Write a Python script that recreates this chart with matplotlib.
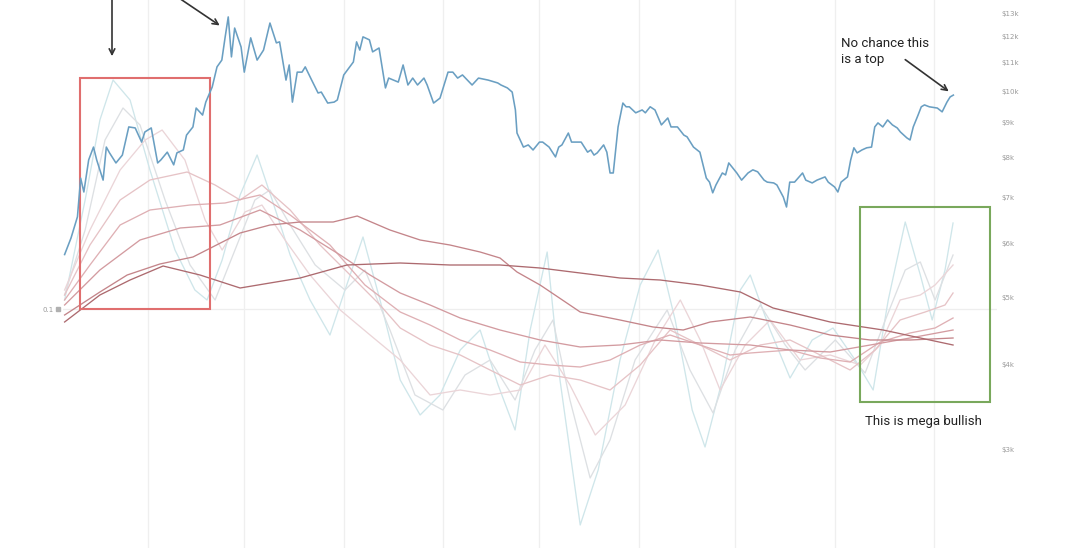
import pandas as pd
import matplotlib
matplotlib.use("Agg")
import matplotlib.pyplot as plt
import matplotlib.dates as mdates
from matplotlib.patches import Rectangle
from matplotlib.ticker import NullLocator

# days counted from 2019-05-06
start = pd.Timestamp("2019-05-06")

price_days = [0, 2, 4, 5, 6, 7.5, 9, 10, 12, 13, 14, 16, 18, 20, 22, 24, 25, 27, 29, 30,
              32, 34, 35, 37, 38, 40, 41, 43, 44, 46, 47.5, 49, 50, 51, 52, 53, 55, 56, 58, 60,
              62, 64, 66, 67, 69, 70, 71, 72.5, 74, 75, 77, 79, 80, 82, 84, 85, 87, 90, 91, 92,
              93, 95, 96, 98, 100, 101, 104, 105.5, 107, 108.5, 110, 112, 113, 115, 117, 119.5, 121, 122.5, 124, 127,
              129, 132, 135, 136, 138, 139.5, 140.5, 141, 143, 144.5, 146, 148, 149, 151, 153, 154, 155, 157, 158, 161,
              163, 164, 165, 166, 168, 169, 170, 171, 172.5, 174, 175, 176, 178, 180, 181, 182.5, 184, 186, 188, 189,
              191, 193, 194, 196, 198, 200, 201, 202, 203, 205, 206, 207, 209.5, 211, 213, 214.5, 216, 218, 219, 221,
              222, 224, 225, 226, 227.5, 230, 231, 233, 234.5, 237, 238, 240, 241, 242, 244, 245, 246, 247, 248.5, 250,
              251.5, 252.5, 253.5, 255, 256.5, 258, 259.5, 260.5, 262.5, 263.5, 264.5, 266, 267, 268, 269.5, 272, 273.5, 275, 276, 277]
price_vals = [5780, 6110, 6560, 7470, 7130, 7940, 8290, 7940, 7420, 8290, 8130, 7860, 8070, 8870, 8840, 8430, 8720, 8840, 7860, 7940,
              8150, 7810, 8130, 8210, 8630, 8870, 9450, 9230, 9640, 10140, 10850, 11100, 11960, 12830, 11220, 12360, 11600, 10660, 11960, 11100,
              11480, 12570, 11760, 11800, 10380, 10920, 9640, 10660, 10660, 10850, 10380, 9940, 9970, 9610, 9640, 9710, 10560, 11030, 11800, 11480,
              12000, 11880, 11410, 11560, 10110, 10450, 10310, 10920, 10210, 10450, 10210, 10450, 10210, 9610, 9770, 10660, 10660, 10450, 10560, 10210,
              10450, 10380, 10280, 10210, 10110, 9970, 9390, 8690, 8290, 8350, 8210, 8430, 8430, 8290, 8020, 8290, 8350, 8690, 8430, 8430,
              8150, 8210, 8070, 8130, 8350, 8150, 7600, 7600, 8870, 9610, 9490, 9490, 9300, 9390, 9300, 9490, 9390, 8930, 9140, 8870,
              8870, 8630, 8580, 8290, 8150, 7470, 7370, 7110, 7300, 7600, 7550, 7860, 7600, 7420, 7600, 7680, 7630, 7420, 7370, 7350,
              7300, 7010, 6780, 7370, 7370, 7600, 7420, 7350, 7420, 7500, 7370, 7250, 7130, 7370, 7500, 7940, 8270, 8130, 8210, 8270,
              8290, 8870, 8990, 8870, 9080, 8930, 8840, 8720, 8550, 8490, 8870, 9230, 9490, 9550, 9490, 9450, 9330, 9640, 9810, 9870]

# oscillators, fastest (l1) to slowest (l8)
l1_days = [0, 6.4, 11.0, 15.1, 20.4, 26.6, 34.4, 40.6, 44.4, 49.1, 54.7, 60.0, 64.7, 70.3, 76.5, 82.7, 87.4, 93.0, 98.3, 104.6,
           110.8, 117.0, 123.3, 129.5, 135.1, 140.4, 145.1, 150.4, 154.4, 160.7, 166.3, 173.1, 179.4, 185.0, 190.3, 195.6, 199.6, 205.0, 210.6, 213.7,
           219.9, 226.1, 233.0, 239.5, 246.4, 252.0, 256.7, 262.0, 266.7, 270.4, 274.4, 276.9]
l1_vals = [0.109, 0.209, 0.289, 0.329, 0.309, 0.239, 0.159, 0.119, 0.109, 0.149, 0.214, 0.254, 0.209, 0.154, 0.109, 0.074, 0.119, 0.172, 0.109, 0.029,
           -0.006, 0.014, 0.059, 0.079, 0.024, -0.021, 0.079, 0.157, 0.029, -0.116, -0.061, 0.049, 0.124, 0.159, 0.089, -0.001, -0.038, 0.029, 0.119, 0.134,
           0.079, 0.031, 0.069, 0.081, 0.049, 0.019, 0.109, 0.187, 0.134, 0.089, 0.139, 0.186]

l2_days = [0, 6.4, 12.6, 18.2, 23.5, 31.3, 39.1, 46.9, 53.1, 59.3, 64.0, 70.3, 78.1, 87.4, 93.6, 101.4, 109.2, 117.9, 124.8, 132.6,
           140.4, 146.6, 152.2, 157.5, 163.8, 170.0, 177.8, 187.8, 194.9, 202.1, 209.0, 216.8, 224.6, 230.8, 240.2, 249.5, 255.8, 262.0, 266.7, 271.3, 276.9]
l2_vals = [0.114, 0.179, 0.269, 0.301, 0.284, 0.209, 0.144, 0.109, 0.159, 0.209, 0.219, 0.184, 0.144, 0.119, 0.139, 0.079, 0.014, -0.001, 0.034, 0.049,
           0.009, 0.059, 0.089, 0.009, -0.069, -0.031, 0.049, 0.099, 0.039, -0.004, 0.059, 0.104, 0.064, 0.039, 0.069, 0.036, 0.089, 0.139, 0.147, 0.109, 0.154]

l3_days = [0, 7.9, 17.3, 25.1, 30.4, 37.5, 43.8, 49.1, 56.2, 61.5, 68.7, 76.5, 85.9, 95.2, 104.6, 113.9, 123.3, 132.6, 142.0, 149.7,
           157.5, 165.4, 174.7, 184.1, 191.9, 198.1, 204.3, 212.1, 219.9, 229.2, 238.6, 248.0, 254.2, 260.4, 266.7, 271.3, 276.9]
l3_vals = [0.119, 0.179, 0.239, 0.269, 0.279, 0.249, 0.189, 0.159, 0.197, 0.204, 0.169, 0.134, 0.099, 0.074, 0.049, 0.014, 0.019, 0.014, 0.019, 0.064,
           0.024, -0.026, 0.004, 0.069, 0.109, 0.069, 0.019, 0.064, 0.089, 0.049, 0.054, 0.044, 0.064, 0.109, 0.114, 0.124, 0.144]

l4_days = [0, 7.9, 17.3, 26.6, 38.2, 46.9, 54.7, 61.5, 70.3, 79.6, 89.0, 98.3, 104.6, 113.9, 123.3, 132.6, 142.0, 151.3, 160.7, 170.0,
           179.4, 188.7, 198.1, 207.4, 216.8, 226.1, 235.5, 244.8, 252.6, 260.4, 268.2, 274.4, 276.9]
l4_vals = [0.114, 0.164, 0.209, 0.229, 0.237, 0.224, 0.209, 0.224, 0.199, 0.164, 0.134, 0.104, 0.081, 0.064, 0.054, 0.039, 0.024, 0.034, 0.029, 0.019,
           0.044, 0.079, 0.064, 0.049, 0.064, 0.069, 0.054, 0.039, 0.059, 0.089, 0.097, 0.104, 0.116]

l5_days = [0, 7.9, 17.3, 26.6, 39.1, 50.0, 60.9, 70.3, 82.7, 93.6, 104.6, 113.9, 123.3, 132.6, 142.0, 151.3, 160.7, 170.0, 179.4, 188.7,
           198.1, 207.4, 213.7, 226.1, 235.5, 244.8, 254.2, 263.5, 271.3, 276.9]
l5_vals = [0.109, 0.144, 0.184, 0.199, 0.204, 0.206, 0.214, 0.194, 0.164, 0.124, 0.097, 0.084, 0.069, 0.059, 0.047, 0.044, 0.042, 0.049, 0.064, 0.074,
           0.064, 0.054, 0.056, 0.059, 0.051, 0.047, 0.067, 0.076, 0.081, 0.091]

l6_days = [0, 11.0, 23.5, 36.0, 48.4, 60.9, 73.4, 85.9, 95.2, 104.6, 113.9, 123.3, 135.7, 148.2, 160.7, 173.1, 185.6, 198.1, 213.7, 226.1,
           238.6, 251.1, 263.5, 276.9]
l6_vals = [0.104, 0.139, 0.169, 0.181, 0.184, 0.199, 0.179, 0.154, 0.134, 0.116, 0.104, 0.091, 0.079, 0.069, 0.062, 0.064, 0.069, 0.066, 0.064, 0.059,
           0.057, 0.064, 0.071, 0.079]

l7_days = [0, 11.0, 19.5, 29.7, 40.0, 54.7, 64.0, 73.4, 83.7, 91.2, 101.4, 110.8, 120.1, 129.5, 135.7, 141.0, 148.2, 160.7, 173.1, 183.4,
           192.8, 201.2, 213.7, 226.1, 238.6, 251.1, 263.5, 276.9]
l7_vals = [0.094, 0.117, 0.134, 0.145, 0.152, 0.176, 0.184, 0.187, 0.187, 0.193, 0.179, 0.169, 0.164, 0.157, 0.151, 0.137, 0.124, 0.097, 0.089, 0.082,
           0.079, 0.087, 0.092, 0.084, 0.074, 0.069, 0.069, 0.071]

l8_days = [0, 11.0, 20.4, 30.7, 42.2, 54.7, 64.0, 73.4, 88.0, 104.6, 120.1, 135.7, 148.2, 160.7, 173.1, 185.6, 198.1, 210.6, 220.8, 238.6,
           255.1, 276.9]
l8_vals = [0.087, 0.114, 0.129, 0.143, 0.134, 0.121, 0.126, 0.131, 0.144, 0.146, 0.144, 0.144, 0.141, 0.136, 0.131, 0.129, 0.124, 0.117, 0.101, 0.087,
           0.079, 0.064]

osc_lines = [(l1_days, l1_vals), (l2_days, l2_vals), (l3_days, l3_vals), (l4_days, l4_vals),
             (l5_days, l5_vals), (l6_days, l6_vals), (l7_days, l7_vals), (l8_days, l8_vals)]
osc_colors = ["#cfe6ea", "#dde0e3", "#ebd5d8", "#e6c3c6", "#dfb0b4", "#d39ba0", "#c4858a", "#ad6a6f"]

price_ticks = [3000, 4000, 5000, 6000, 7000, 8000, 9000, 10000, 11000, 12000, 13000]


def to_dates(days):
    return start + pd.to_timedelta(days, unit="D")


fig = plt.figure(figsize=(10.8, 5.48), dpi=100)
ax = fig.add_axes([63 / 1080, 0, 934 / 1080, 1])
ax2 = ax.twinx()

# oscillators
for (d, v), c in zip(osc_lines, osc_colors):
    ax.plot(to_dates(d), v, color=c, linewidth=0.95)

ax.axhline(0.1, color="#eeeeee", linewidth=0.9, zorder=0)
ax.set_ylim(-0.139, 0.409)
ax.set_xlim(to_dates(-0.5), to_dates(290.6))
ax.xaxis.set_major_locator(mdates.MonthLocator())
ax.grid(axis="x", color="#efefef", linewidth=0.9)
ax.set_axisbelow(True)
ax.tick_params(axis="x", length=0, labelbottom=False)
ax.set_yticks([0.1])
ax.set_yticklabels(["0.1"])
ax.tick_params(axis="y", length=0, labelsize=5, labelcolor="#9a9a9a", pad=7)
ax.plot([-0.005], [0.1], marker="s", markersize=2.5, color="#b0b0b0",
        transform=ax.get_yaxis_transform(), clip_on=False)

# price
ax2.plot(to_dates(price_days), price_vals, color="#6a9fc2", linewidth=1.15)
ax2.set_yscale("log")
ax2.set_ylim(2159, 13580)
ax2.set_yticks(price_ticks)
ax2.set_yticklabels(["$%dk" % (t // 1000) for t in price_ticks])
ax2.yaxis.set_minor_locator(NullLocator())
ax2.tick_params(axis="y", length=0, labelsize=5, labelcolor="#9a9a9a", pad=3)

for a in (ax, ax2):
    for s in a.spines.values():
        s.set_visible(False)

# boxes
x0 = mdates.date2num(start)
ax.add_patch(Rectangle((x0 + 4.8, 0.1), 40.5, 0.231, fill=False,
                       edgecolor="#e06e6e", linewidth=1.5, zorder=5))
ax.add_patch(Rectangle((x0 + 247.9, 0.007), 40.6, 0.195, fill=False,
                       edgecolor="#79a85c", linewidth=1.5, zorder=5, clip_on=False))

# notes
arrow = dict(arrowstyle="->", color="#333333", lw=1.2, mutation_scale=10)
ax.annotate("", xy=(112, 489), xytext=(112, 556), xycoords="figure pixels",
            textcoords="figure pixels", arrowprops=arrow, annotation_clip=False)
ax.annotate("", xy=(222, 521), xytext=(176, 552), xycoords="figure pixels",
            textcoords="figure pixels", arrowprops=arrow, annotation_clip=False)
ax.annotate("", xy=(951, 455), xytext=(903, 490), xycoords="figure pixels",
            textcoords="figure pixels", arrowprops=arrow, annotation_clip=False)

fig.text(841 / 1080, 1 - 37 / 548, "No chance this\nis a top", va="top", ha="left",
         fontsize=9.5, color="#222222", family="Roboto", linespacing=1.25)
fig.text(865 / 1080, 1 - 422 / 548, "This is mega bullish", va="center", ha="left",
         fontsize=9.5, color="#222222", family="Roboto")

fig.savefig("out.png", dpi=100)
